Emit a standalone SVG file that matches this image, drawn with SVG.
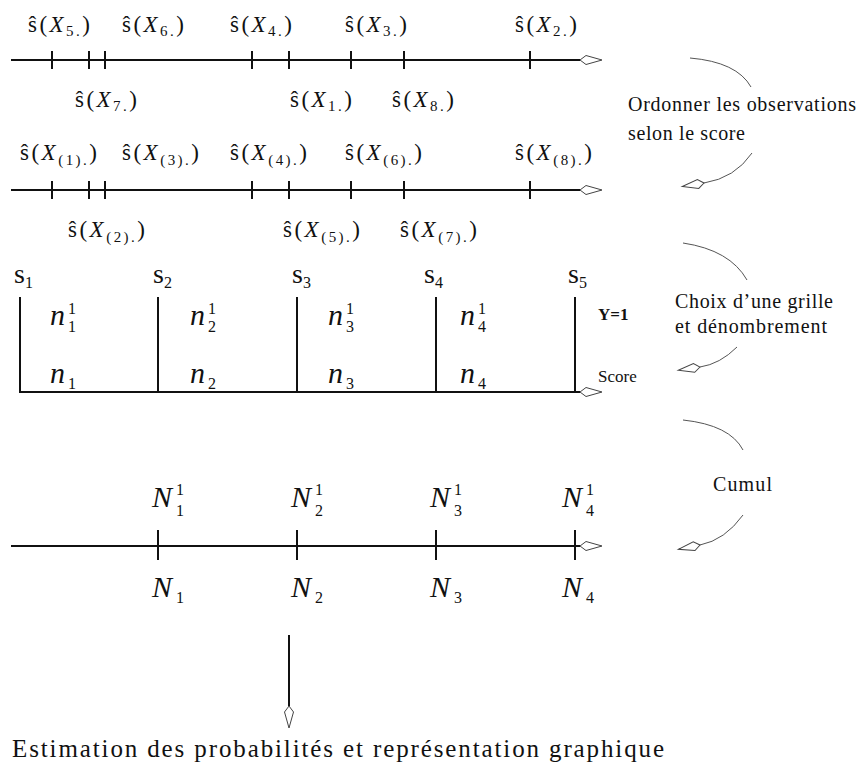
<svg xmlns="http://www.w3.org/2000/svg" width="858" height="769" viewBox="0 0 858 769">
<style>
text{font-family:"Liberation Serif","DejaVu Serif",serif;fill:#111}
.lab{font-size:23px}
.sub{font-size:15px}
.it{font-style:italic}
.axis{stroke:#111;stroke-width:2;fill:none}
.tick{stroke:#111;stroke-width:2}
.arc{stroke:#555;stroke-width:1;fill:none}
.big{font-size:30px;font-style:italic}
.sm{font-size:16px}
.s{font-size:28px}
.note{font-size:20px}
</style>
<defs>
<marker id="oa" markerUnits="userSpaceOnUse" viewBox="-1 -6 25 12" refX="0" refY="0" markerWidth="25" markerHeight="12" orient="auto" overflow="visible">
<path d="M0,0 L6,-4.5 L22,0 L6,4.5 Z" fill="#fff" stroke="#444" stroke-width="1"/>
</marker>
</defs>
<g id="connectors">
<line class="axis" x1="11" y1="60" x2="580" y2="60" marker-end="url(#oa)"/>
<g class="tick"><line x1="52" y1="51" x2="52" y2="69"/><line x1="89" y1="51" x2="89" y2="69"/><line x1="105" y1="51" x2="105" y2="69"/><line x1="252" y1="51" x2="252" y2="69"/><line x1="289" y1="51" x2="289" y2="69"/><line x1="351" y1="51" x2="351" y2="69"/><line x1="404" y1="51" x2="404" y2="69"/><line x1="530" y1="51" x2="530" y2="69"/></g>
<line class="axis" x1="11" y1="190" x2="580" y2="190" marker-end="url(#oa)"/>
<g class="tick"><line x1="52" y1="181" x2="52" y2="199"/><line x1="89" y1="181" x2="89" y2="199"/><line x1="105" y1="181" x2="105" y2="199"/><line x1="252" y1="181" x2="252" y2="199"/><line x1="289" y1="181" x2="289" y2="199"/><line x1="351" y1="181" x2="351" y2="199"/><line x1="404" y1="181" x2="404" y2="199"/><line x1="530" y1="181" x2="530" y2="199"/></g>
<path class="axis" d="M20,297 V392 H580" marker-end="url(#oa)"/>
<g class="tick"><line x1="158" y1="297" x2="158" y2="392"/><line x1="297" y1="297" x2="297" y2="392"/><line x1="436" y1="297" x2="436" y2="392"/><line x1="575" y1="297" x2="575" y2="392"/></g>
<line class="axis" x1="11" y1="546" x2="580" y2="546" marker-end="url(#oa)"/>
<g class="tick"><line x1="158" y1="530" x2="158" y2="560"/><line x1="297" y1="530" x2="297" y2="560"/><line x1="436" y1="530" x2="436" y2="560"/><line x1="575" y1="530" x2="575" y2="560"/></g>
<line class="axis" x1="289" y1="635" x2="289" y2="706" marker-end="url(#oa)"/>
<path class="arc" d="M690,58 Q737,62 751,87"/>
<path class="arc" d="M752,153 Q735,178 704,183" marker-end="url(#oa)"/>
<path class="arc" d="M683,243 Q730,250 747,280"/>
<path class="arc" d="M737,347 Q720,364 700,367" marker-end="url(#oa)"/>
<path class="arc" d="M683,420 Q730,425 743,450"/>
<path class="arc" d="M743,515 Q725,540 700,545" marker-end="url(#oa)"/>
</g>
<g id="row1-labels" class="lab">
<text x="28" y="32" textLength="62">ŝ(<tspan class="it">X</tspan><tspan class="sub" dy="4">5.</tspan><tspan dy="-4">)</tspan></text>
<text x="122" y="32" textLength="62">ŝ(<tspan class="it">X</tspan><tspan class="sub" dy="4">6.</tspan><tspan dy="-4">)</tspan></text>
<text x="230" y="32" textLength="62">ŝ(<tspan class="it">X</tspan><tspan class="sub" dy="4">4.</tspan><tspan dy="-4">)</tspan></text>
<text x="345" y="32" textLength="62">ŝ(<tspan class="it">X</tspan><tspan class="sub" dy="4">3.</tspan><tspan dy="-4">)</tspan></text>
<text x="515" y="32" textLength="62">ŝ(<tspan class="it">X</tspan><tspan class="sub" dy="4">2.</tspan><tspan dy="-4">)</tspan></text>
<text x="75" y="107" textLength="62">ŝ(<tspan class="it">X</tspan><tspan class="sub" dy="4">7.</tspan><tspan dy="-4">)</tspan></text>
<text x="290" y="107" textLength="62">ŝ(<tspan class="it">X</tspan><tspan class="sub" dy="4">1.</tspan><tspan dy="-4">)</tspan></text>
<text x="392" y="107" textLength="62">ŝ(<tspan class="it">X</tspan><tspan class="sub" dy="4">8.</tspan><tspan dy="-4">)</tspan></text>
</g>
<g id="row2-labels" class="lab">
<text x="20" y="160" textLength="77">ŝ(<tspan class="it">X</tspan><tspan class="sub" dy="5">(1).</tspan><tspan dy="-5">)</tspan></text>
<text x="122" y="160" textLength="77">ŝ(<tspan class="it">X</tspan><tspan class="sub" dy="5">(3).</tspan><tspan dy="-5">)</tspan></text>
<text x="230" y="160" textLength="77">ŝ(<tspan class="it">X</tspan><tspan class="sub" dy="5">(4).</tspan><tspan dy="-5">)</tspan></text>
<text x="345" y="160" textLength="77">ŝ(<tspan class="it">X</tspan><tspan class="sub" dy="5">(6).</tspan><tspan dy="-5">)</tspan></text>
<text x="515" y="160" textLength="77">ŝ(<tspan class="it">X</tspan><tspan class="sub" dy="5">(8).</tspan><tspan dy="-5">)</tspan></text>
<text x="68" y="237" textLength="77">ŝ(<tspan class="it">X</tspan><tspan class="sub" dy="5">(2).</tspan><tspan dy="-5">)</tspan></text>
<text x="283" y="237" textLength="77">ŝ(<tspan class="it">X</tspan><tspan class="sub" dy="5">(5).</tspan><tspan dy="-5">)</tspan></text>
<text x="400" y="237" textLength="77">ŝ(<tspan class="it">X</tspan><tspan class="sub" dy="5">(7).</tspan><tspan dy="-5">)</tspan></text>
</g>
<g id="grid-labels">
<text class="s" x="14" y="283">s<tspan class="sm" dy="5">1</tspan></text>
<text class="s" x="153" y="283">s<tspan class="sm" dy="5">2</tspan></text>
<text class="s" x="292" y="283">s<tspan class="sm" dy="5">3</tspan></text>
<text class="s" x="424" y="283">s<tspan class="sm" dy="5">4</tspan></text>
<text class="s" x="568" y="283">s<tspan class="sm" dy="5">5</tspan></text>
<g class="big">
<text x="50" y="325">n</text><text x="190" y="325">n</text><text x="328" y="325">n</text><text x="460" y="325">n</text>
<text x="50" y="383">n</text><text x="190" y="383">n</text><text x="328" y="383">n</text><text x="460" y="383">n</text>
</g>
<g class="sm">
<text x="68" y="314">1</text><text x="68" y="332">1</text>
<text x="208" y="314">1</text><text x="208" y="332">2</text>
<text x="346" y="314">1</text><text x="346" y="332">3</text>
<text x="478" y="314">1</text><text x="478" y="332">4</text>
<text x="68" y="389">1</text><text x="208" y="389">2</text><text x="346" y="389">3</text><text x="478" y="389">4</text>
</g>
<text x="598" y="320" font-size="17" font-weight="bold">Y=1</text>
<text x="598" y="382" font-size="17">Score</text>
</g>
<g id="cumul-labels">
<g class="big">
<text x="152" y="507">N</text><text x="291" y="507">N</text><text x="430" y="507">N</text><text x="562" y="507">N</text>
<text x="152" y="597">N</text><text x="291" y="597">N</text><text x="430" y="597">N</text><text x="562" y="597">N</text>
</g>
<g class="sm">
<text x="176" y="495">1</text><text x="176" y="516">1</text>
<text x="315" y="495">1</text><text x="315" y="516">2</text>
<text x="454" y="495">1</text><text x="454" y="516">3</text>
<text x="586" y="495">1</text><text x="586" y="516">4</text>
<text x="176" y="603">1</text><text x="315" y="603">2</text><text x="454" y="603">3</text><text x="586" y="603">4</text>
</g>
</g>
<g id="step1" class="note">
<text x="628" y="111" textLength="228">Ordonner les observations</text>
<text x="628" y="140" textLength="117">selon le score</text>
</g>
<g id="step2" class="note">
<text x="675" y="308" textLength="158">Choix d’une grille</text>
<text x="675" y="333" textLength="152">et dénombrement</text>
</g>
<g id="step3" class="note">
<text x="713" y="491" textLength="59">Cumul</text>
</g>
<g id="result">
<text x="12" y="757" font-size="25" textLength="652">Estimation des probabilités et représentation graphique</text>
</g>
</svg>
